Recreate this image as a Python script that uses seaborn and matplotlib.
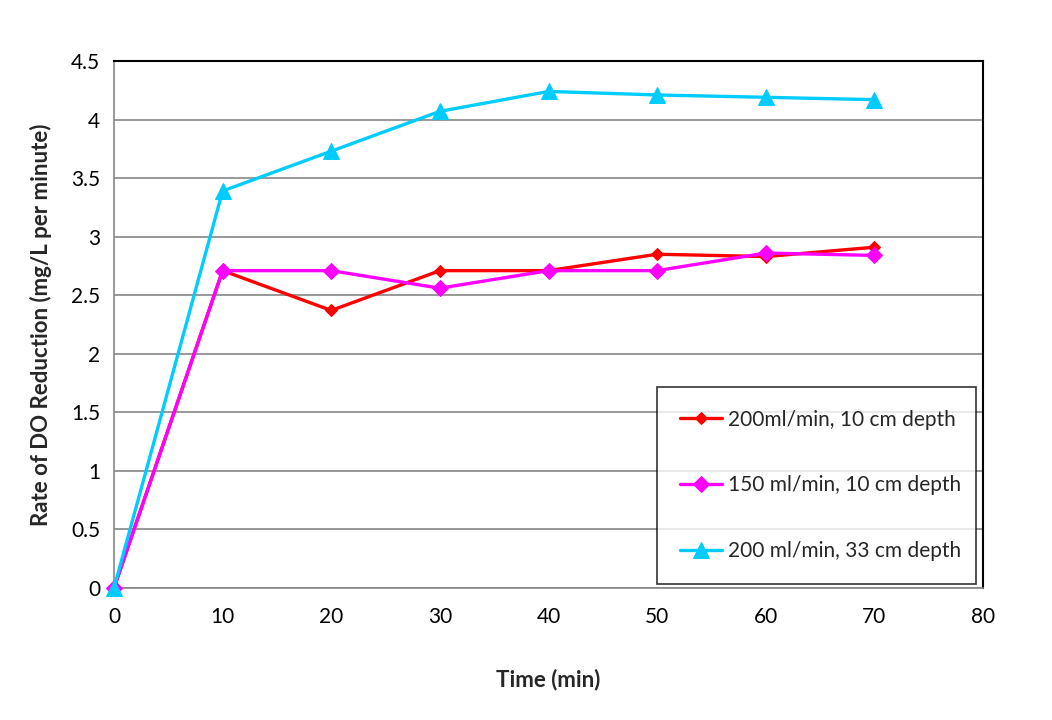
import matplotlib
matplotlib.use("Agg")
import matplotlib.pyplot as plt
import seaborn as sns
import pandas as pd

time_min = [0, 10, 20, 30, 40, 50, 60, 70]
red_200_10 = [0, 2.71, 2.37, 2.71, 2.71, 2.85, 2.83, 2.91]
mag_150_10 = [0, 2.71, 2.71, 2.56, 2.71, 2.71, 2.86, 2.84]
cyan_200_33 = [0, 3.39, 3.73, 4.07, 4.24, 4.21, 4.19, 4.17]
labels = ["200ml/min, 10 cm depth", "150 ml/min, 10 cm depth", "200 ml/min, 33 cm depth"]
yticks = [0, 0.5, 1, 1.5, 2, 2.5, 3, 3.5, 4, 4.5]
xticks = [0, 10, 20, 30, 40, 50, 60, 70, 80]

sns.set_style("white")
plt.rcParams['font.family'] = ['Lato', 'DejaVu Sans']

fig = plt.figure(figsize=(10.52, 7.2), dpi=100)
ax = fig.add_axes([114/1052, 1-588/720, (983-114)/1052, (588-61)/720])

series = [(red_200_10, "#FF0000", "D", 6.5), (mag_150_10, "#FF00FF", "D", 8), (cyan_200_33, "#00CCFF", "^", 12)]
for (vals, col, mk, ms), lab in zip(series, labels):
    df = pd.DataFrame({"t": time_min, "v": vals})
    sns.lineplot(data=df, x="t", y="v", ax=ax, color=col, marker=mk, markersize=ms,
                 markeredgecolor=col, linewidth=2.4, label=lab, clip_on=False, zorder=3)

ax.set_xlim(0, 80)
ax.set_ylim(0, 4.5)
ax.set_xticks(xticks)
ax.set_xticklabels([str(x) for x in xticks])
ax.set_yticks(yticks)
ax.set_yticklabels([("%g" % y) for y in yticks])
ax.tick_params(axis='both', labelsize=15, length=0, colors='black')
ax.tick_params(axis='x', pad=14)
ax.tick_params(axis='y', pad=10)
ax.yaxis.grid(True, color="#868686", linewidth=1.2)
ax.xaxis.grid(False)
ax.set_axisbelow(True)
for s in ['left', 'bottom']:
    ax.spines[s].set_color("#868686")
    ax.spines[s].set_linewidth(1.2)
for s in ['top', 'right']:
    ax.spines[s].set_color("black")
    ax.spines[s].set_linewidth(1.5)

ax.set_xlabel("Time (min)", fontsize=16, fontweight='bold', labelpad=30)
ax.set_ylabel("Rate of DO Reduction (mg/L per minute)", fontsize=16, fontweight='bold', labelpad=14)

leg = ax.legend(loc='center', bbox_to_anchor=(0.625, 0.011, 0.367, 0.367), mode='expand',
                frameon=True, fancybox=False, edgecolor='black', fontsize=15,
                labelspacing=2.2, handlelength=2.0, handletextpad=0.3,
                borderaxespad=0, borderpad=1.1)
leg.get_frame().set_linewidth(1.2)

fig.savefig("out.png", dpi=100, facecolor='white')
